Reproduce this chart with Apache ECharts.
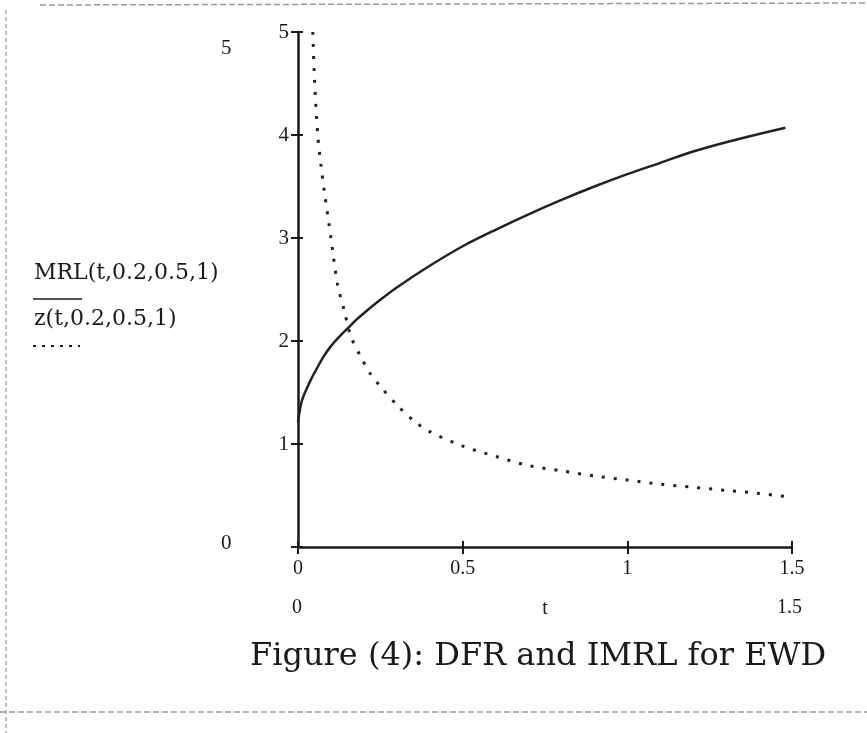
<!DOCTYPE html>
<html>
<head>
<meta charset="utf-8">
<script src="https://cdn.jsdelivr.net/npm/echarts@6/dist/echarts.min.js"></script>
<style>
  html, body { margin: 0; padding: 0; background: #fff; }
  #main { width: 867px; height: 733px; }
</style>
</head>
<body>
<div id="main"></div>
<script>
// MRL(t,0.2,0.5,1) - solid curve
var mrlT = [0, 0.01, 0.02, 0.04, 0.06, 0.08, 0.1, 0.125, 0.15, 0.175, 0.2, 0.25, 0.3, 0.4, 0.5, 0.6, 0.7, 0.8, 0.9, 1.0, 1.1, 1.2, 1.3, 1.4, 1.48];
var mrlY = [1.21, 1.40, 1.49, 1.63, 1.75, 1.86, 1.95, 2.04, 2.12, 2.20, 2.27, 2.40, 2.52, 2.73, 2.92, 3.08, 3.23, 3.37, 3.50, 3.62, 3.73, 3.84, 3.93, 4.01, 4.07];
// z(t,0.2,0.5,1) - dotted curve
var zT = [0.045, 0.05, 0.06, 0.07, 0.08, 0.1, 0.12, 0.14, 0.16, 0.19, 0.22, 0.25, 0.3, 0.35, 0.4, 0.5, 0.6, 0.7, 0.8, 0.9, 1.0, 1.1, 1.2, 1.3, 1.4, 1.48];
var zY = [5.0, 4.55, 4.0, 3.7, 3.45, 3.0, 2.55, 2.3, 2.05, 1.85, 1.68, 1.56, 1.38, 1.23, 1.12, 0.98, 0.88, 0.79, 0.74, 0.69, 0.65, 0.61, 0.58, 0.55, 0.52, 0.49];
// tick labels
var xTicks = ['0', '0.5', '1', '1.5'];
var yTicks = ['', '1', '2', '3', '4', '5'];

var ink = '#1a1a1a';
var serif = 'Liberation Serif';
var wide = 'DejaVu Serif';

function pairs(xs, ys) {
  var out = [];
  for (var i = 0; i < xs.length; i++) {
    out.push([xs[i], ys[i]]);
  }
  return out;
}

var chart = echarts.init(document.getElementById('main'));

var option = {
  backgroundColor: '#ffffff',
  animation: false,
  grid: { left: 298, right: 75, top: 32, bottom: 186, containLabel: false },
  xAxis: [{
    type: 'value', min: 0, max: 1.5, interval: 0.5,
    axisLine: { show: true, lineStyle: { color: ink, width: 2.5 } },
    axisTick: { show: true, length: 7, lineStyle: { color: ink, width: 2 } },
    axisLabel: {
      color: ink, fontFamily: serif, fontSize: 20, margin: 12,
      formatter: function (v) { return xTicks[Math.round(v / 0.5)]; }
    },
    splitLine: { show: false },
    name: 't', nameLocation: 'middle', nameGap: 52,
    nameTextStyle: { color: ink, fontFamily: serif, fontSize: 20 }
  }, {
    // inner half of the x ticks
    type: 'value', min: 0, max: 1.5, interval: 0.5, position: 'bottom',
    axisLine: { show: false },
    axisTick: { show: true, inside: true, length: 6, lineStyle: { color: ink, width: 2 } },
    axisLabel: { show: false },
    splitLine: { show: false }
  }],
  yAxis: [{
    type: 'value', min: 0, max: 5, interval: 1,
    axisLine: { show: true, lineStyle: { color: ink, width: 2.5 } },
    axisTick: { show: true, length: 7, lineStyle: { color: ink, width: 2 } },
    axisLabel: {
      color: ink, fontFamily: serif, fontSize: 21, margin: 9,
      formatter: function (v) { return yTicks[Math.round(v)]; }
    },
    splitLine: { show: false }
  }, {
    // inner half of the y ticks
    type: 'value', min: 0, max: 5, interval: 1, position: 'left',
    axisLine: { show: false },
    axisTick: { show: true, inside: true, length: 5, lineStyle: { color: ink, width: 2 } },
    axisLabel: { show: false },
    splitLine: { show: false }
  }],
  series: [{
    name: 'MRL(t,0.2,0.5,1)',
    type: 'line',
    data: pairs(mrlT, mrlY),
    smooth: 0.3,
    showSymbol: false,
    lineStyle: { color: '#222', width: 2.5, type: 'solid' }
  }, {
    name: 'z(t,0.2,0.5,1)',
    type: 'line',
    data: pairs(zT, zY),
    smooth: 0.3,
    showSymbol: false,
    lineStyle: { color: '#222', width: 3, type: [3, 9] }
  }],
  graphic: [
    // Mathcad range labels
    { type: 'text', left: 221, top: 38, style: { text: '5', fill: ink, font: '21px ' + serif } },
    { type: 'text', left: 221, top: 533, style: { text: '0', fill: ink, font: '21px ' + serif } },
    { type: 'text', left: 292, top: 598, style: { text: '0', fill: ink, font: '20px ' + serif } },
    { type: 'text', left: 777, top: 598, style: { text: '1.5', fill: ink, font: '20px ' + serif } },
    // trace labels with their line styles
    { type: 'text', left: 34, top: 262, style: { text: 'MRL(t,0.2,0.5,1)', fill: ink, font: '22px ' + wide } },
    { type: 'line', shape: { x1: 33, y1: 299, x2: 82, y2: 299 }, style: { stroke: ink, lineWidth: 1.5 } },
    { type: 'text', left: 34, top: 308, style: { text: 'z(t,0.2,0.5,1)', fill: ink, font: '22px ' + wide } },
    { type: 'line', shape: { x1: 33, y1: 346, x2: 80, y2: 346 }, style: { stroke: ink, lineWidth: 2, lineDash: [3, 6] } },
    // caption
    { type: 'text', left: 250, top: 641, style: { text: 'Figure (4): DFR and IMRL for EWD', fill: ink, font: '32px ' + wide } },
    // scanned page edges
    { type: 'line', shape: { x1: 40, y1: 5, x2: 867, y2: 3 }, style: { stroke: '#999', lineWidth: 1.5, lineDash: [6, 3] } },
    { type: 'line', shape: { x1: 6, y1: 10, x2: 6, y2: 733 }, style: { stroke: '#aaa', lineWidth: 1.5, lineDash: [4, 3] } },
    { type: 'line', shape: { x1: 0, y1: 712, x2: 867, y2: 712 }, style: { stroke: '#999', lineWidth: 1.5, lineDash: [6, 3] } }
  ]
};

chart.setOption(option);
</script>
</body>
</html>
